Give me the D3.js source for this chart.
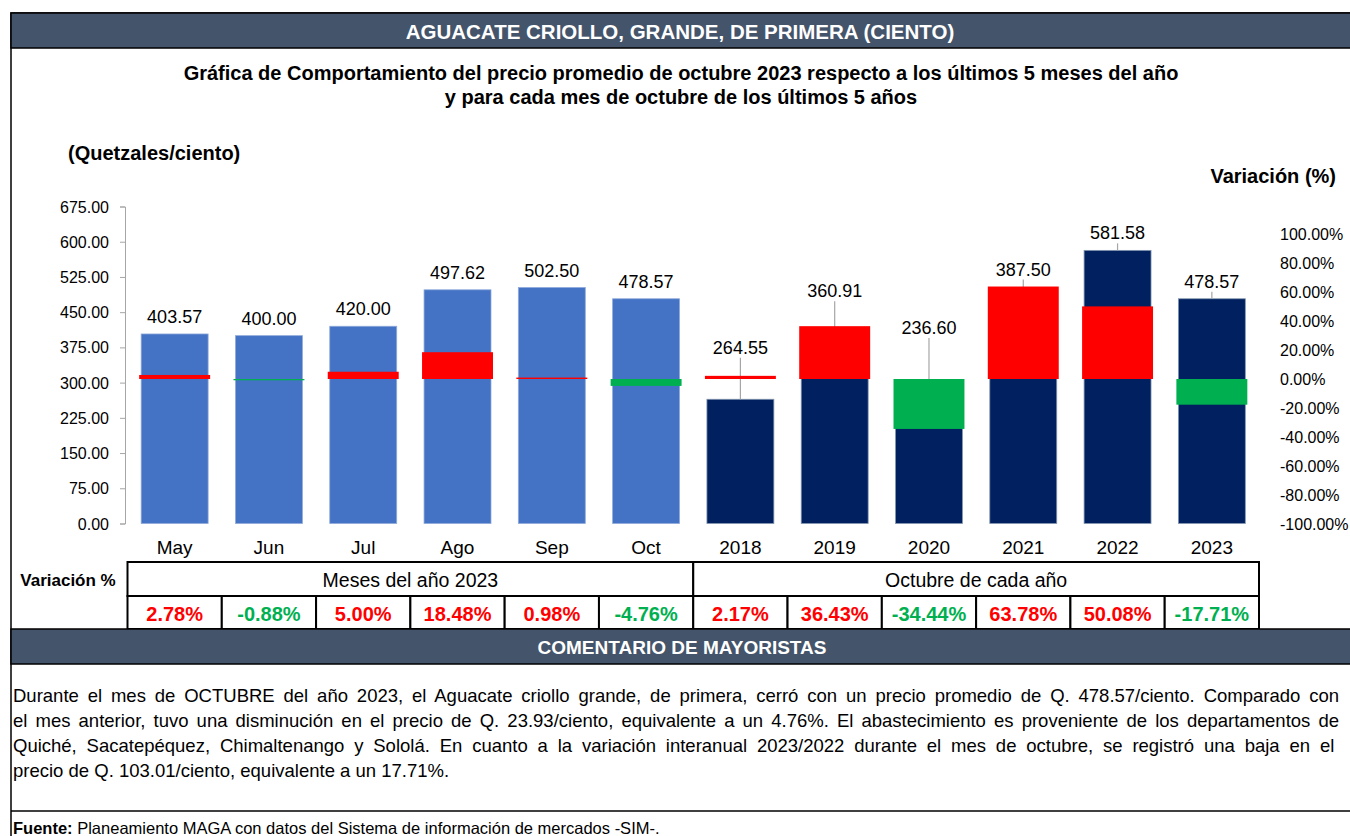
<!DOCTYPE html>
<meta charset="utf-8">
<style>
body { margin: 0; background: #fff; }
svg { display: block; font-family: "Liberation Sans", Arial, sans-serif; }
.axis path, .axis line { stroke: #a6a6a6; }
.axis text { font-size: 16px; fill: #000; }
</style>
<svg width="1350" height="836"></svg>
<script src="https://cdn.jsdelivr.net/npm/d3@7"></script>
<script>

// datos
var categories = ["May", "Jun", "Jul", "Ago", "Sep", "Oct", "2018", "2019", "2020", "2021", "2022", "2023"];
var prices = [403.57, 400.00, 420.00, 497.62, 502.50, 478.57, 264.55, 360.91, 236.60, 387.50, 581.58, 478.57];
var variation = [2.78, -0.88, 5.00, 18.48, 0.98, -4.76, 2.17, 36.43, -34.44, 63.78, 50.08, -17.71];
var groups = ["Meses del año 2023", "Octubre de cada año"];
var leftTicks = [0, 75, 150, 225, 300, 375, 450, 525, 600, 675];
var rightTicks = [-100, -80, -60, -40, -20, 0, 20, 40, 60, 80, 100];

var headerText = "AGUACATE CRIOLLO, GRANDE, DE PRIMERA (CIENTO)";
var titleLines = ["Gráfica de Comportamiento del precio promedio de octubre 2023 respecto a los últimos 5 meses del año",
                  "y para cada mes de octubre de los últimos 5 años"];
var commentLines = [
  "Durante el mes de OCTUBRE del año 2023, el Aguacate criollo grande, de primera, cerró con un precio promedio de Q. 478.57/ciento. Comparado con",
  "el mes anterior, tuvo una disminución en el precio de Q. 23.93/ciento, equivalente a un 4.76%. El abastecimiento es proveniente de los departamentos de",
  "Quiché, Sacatepéquez, Chimaltenango y Sololá.  En cuanto a la variación interanual 2023/2022 durante el mes de octubre, se registró una baja en el",
  "precio de Q. 103.01/ciento, equivalente a un 17.71%."
];

var svg = d3.select("svg");

var navyBand = "#44546a",
    monthBlue = "#4472c4",
    yearNavy = "#002060",
    upRed = "#ff0000",
    downGreen = "#00b050";

// marco exterior
svg.append("rect").attr("x", 11).attr("y", 13).attr("width", 1345).attr("height", 830)
    .attr("fill", "none").attr("stroke", "#000").attr("stroke-width", 1.5);

// banda de encabezado
svg.append("rect").attr("x", 11).attr("y", 13).attr("width", 1345).attr("height", 35)
    .attr("fill", navyBand).attr("stroke", "#000").attr("stroke-width", 1.5);
svg.append("text").attr("x", 680).attr("y", 31).attr("text-anchor", "middle")
    .attr("dominant-baseline", "central")
    .style("font-size", "20.5px").style("font-weight", "bold").style("fill", "#fff")
    .text(headerText);

svg.selectAll(".title").data(titleLines).enter().append("text")
    .attr("class", "title")
    .attr("x", 681).attr("y", function(d, i) { return 73 + i * 24; })
    .attr("text-anchor", "middle").attr("dominant-baseline", "central")
    .style("font-size", "20px").style("font-weight", "bold")
    .text(function(d) { return d; });

svg.append("text").attr("x", 68).attr("y", 153).attr("dominant-baseline", "central")
    .style("font-size", "20px").style("font-weight", "bold").text("(Quetzales/ciento)");
svg.append("text").attr("x", 1336).attr("y", 176).attr("text-anchor", "end")
    .attr("dominant-baseline", "central")
    .style("font-size", "20px").style("font-weight", "bold").text("Variación (%)");

// escalas
var x = d3.scaleBand().domain(categories).range([127.5, 1259]).paddingInner(0.29).paddingOuter(0.145);
var cell = d3.scaleBand().domain(categories).range([127.5, 1259]);
var y = d3.scaleLinear().domain([0, 675]).range([523.5, 206.5]);
var yR = d3.scaleLinear().domain([-100, 100]).range([524, 234]);

var rows = categories.map(function(c, i) {
  return { cat: c, price: prices[i], varp: variation[i], year: i >= 6 };
});

// ejes
svg.append("g").attr("class", "axis")
    .attr("transform", "translate(125,0)")
    .call(d3.axisLeft(y).tickValues(leftTicks).tickSize(5).tickPadding(11).tickFormat(d3.format(".2f")))
    .call(function(g) { g.selectAll("text").attr("dy", null).attr("dominant-baseline", "central"); });

svg.append("g").attr("class", "axis")
    .attr("transform", "translate(1280,0)")
    .call(d3.axisRight(yR).tickValues(rightTicks).tickSize(0).tickPadding(0)
      .tickFormat(function(d) { return d.toFixed(2) + "%"; }))
    .call(function(g) {
      g.select(".domain").remove();
      g.selectAll("text").attr("dy", null).attr("dominant-baseline", "central");
    });

// barras de precio
svg.append("g").selectAll("rect").data(rows).enter().append("rect")
    .attr("x", function(d) { return x(d.cat); })
    .attr("y", function(d) { return y(d.price); })
    .attr("width", x.bandwidth())
    .attr("height", function(d) { return y(0) - y(d.price); })
    .attr("fill", function(d) { return d.year ? yearNavy : monthBlue; })
    .attr("stroke", function(d) { return d.year ? "#8497b0" : "#8eaadb"; })
    .attr("stroke-width", 0.8);

// etiquetas movidas a mano en los años (como en la hoja original)
var labelNudge = { "2018": -11, "2019": -18, "2020": -34 };
rows.forEach(function(d) {
  var top = d.year ? Math.min(y(d.price), yR(Math.max(d.varp, 0))) : y(d.price);
  d.labelY = top - 17 + (labelNudge[d.cat] || 0);
});

// lineas guia
svg.append("g").selectAll("line")
    .data(rows.filter(function(d) { return d.year && d.labelY + 10 < y(d.price) - 2; }))
    .enter().append("line")
    .attr("x1", function(d) { return x(d.cat) + x.bandwidth() / 2; })
    .attr("x2", function(d) { return x(d.cat) + x.bandwidth() / 2; })
    .attr("y1", function(d) { return d.labelY + 10; })
    .attr("y2", function(d) { return y(d.price); })
    .attr("stroke", "#a6a6a6").attr("stroke-width", 1.2);

// barras de variacion (eje secundario)
svg.append("g").selectAll("rect").data(rows).enter().append("rect")
    .attr("x", function(d) { return x(d.cat) - 2; })
    .attr("y", function(d) { return yR(Math.max(d.varp, 0)); })
    .attr("width", x.bandwidth() + 4)
    .attr("height", function(d) { return Math.abs(yR(d.varp) - yR(0)); })
    .attr("fill", function(d) { return d.varp >= 0 ? upRed : downGreen; });

// etiquetas de precio
svg.append("g").selectAll("text").data(rows).enter().append("text")
    .attr("x", function(d) { return x(d.cat) + x.bandwidth() / 2; })
    .attr("y", function(d) { return d.labelY; })
    .attr("text-anchor", "middle").attr("dominant-baseline", "central")
    .style("font-size", "18px")
    .text(function(d) { return d.price.toFixed(2); });

// categorias
svg.append("g").selectAll("text").data(categories).enter().append("text")
    .attr("x", function(d) { return x(d) + x.bandwidth() / 2; })
    .attr("y", 547)
    .attr("text-anchor", "middle").attr("dominant-baseline", "central")
    .style("font-size", "19px")
    .text(function(d) { return d; });

// tabla de variaciones
var t1 = 562, t2 = 596, t3 = 629;
svg.append("text").attr("x", 68).attr("y", 580).attr("text-anchor", "middle")
    .attr("dominant-baseline", "central")
    .style("font-size", "17px").style("font-weight", "bold").text("Variación %");

var tbl = svg.append("g");
groups.forEach(function(g, i) {
  var x0 = cell(categories[i * 6]), x1 = cell(categories[i * 6 + 5]) + cell.bandwidth();
  tbl.append("rect").attr("x", x0).attr("y", t1).attr("width", x1 - x0).attr("height", t2 - t1)
      .attr("fill", "#fff").attr("stroke", "#000").attr("stroke-width", 2);
  tbl.append("text").attr("x", (x0 + x1) / 2).attr("y", (t1 + t2) / 2 + 1)
      .attr("text-anchor", "middle").attr("dominant-baseline", "central")
      .style("font-size", "19.5px").text(g);
});
tbl.selectAll(".vcell").data(rows).enter().append("rect")
    .attr("class", "vcell")
    .attr("x", function(d) { return cell(d.cat); })
    .attr("y", t2).attr("width", cell.bandwidth()).attr("height", t3 - t2)
    .attr("fill", "#fff").attr("stroke", "#000").attr("stroke-width", 2);
tbl.selectAll(".vtext").data(rows).enter().append("text")
    .attr("class", "vtext")
    .attr("x", function(d) { return cell(d.cat) + cell.bandwidth() / 2; })
    .attr("y", (t2 + t3) / 2 + 1)
    .attr("text-anchor", "middle").attr("dominant-baseline", "central")
    .style("font-size", "20px").style("font-weight", "bold")
    .style("fill", function(d) { return d.varp >= 0 ? upRed : downGreen; })
    .text(function(d) { return d.varp.toFixed(2) + "%"; });

// comentario
svg.append("rect").attr("x", 11).attr("y", t3).attr("width", 1345).attr("height", 35)
    .attr("fill", navyBand).attr("stroke", "#000").attr("stroke-width", 1.5);
svg.append("text").attr("x", 682).attr("y", t3 + 18).attr("text-anchor", "middle")
    .attr("dominant-baseline", "central")
    .style("font-size", "19px").style("font-weight", "bold").style("fill", "#fff")
    .text("COMENTARIO DE MAYORISTAS");

var cx0 = 13, cx1 = 1339;
svg.selectAll(".cline").data(commentLines).enter().append("text")
    .attr("class", "cline")
    .attr("x", cx0).attr("y", function(d, i) { return 695 + i * 25; })
    .attr("dominant-baseline", "central")
    .style("font-size", "18.5px")
    .text(function(d) { return d; })
    .each(function(d, i) {
      if (i === commentLines.length - 1) return;
      var w = this.getComputedTextLength();
      var gaps = d.split(" ").length - 1;
      d3.select(this).style("word-spacing", ((cx1 - cx0 - w) / gaps) + "px");
    });

svg.append("line").attr("x1", 11).attr("x2", 1350).attr("y1", 811).attr("y2", 811)
    .attr("stroke", "#000").attr("stroke-width", 1.5);

var fuente = svg.append("text").attr("x", 13).attr("y", 828).attr("dominant-baseline", "central")
    .style("font-size", "16.5px");
fuente.append("tspan").style("font-weight", "bold").text("Fuente:");
fuente.append("tspan").text(" Planeamiento MAGA con datos del Sistema de información de mercados -SIM-.");

</script>
